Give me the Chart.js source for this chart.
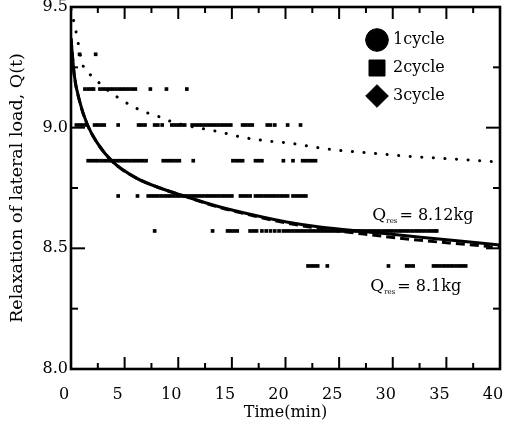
<!DOCTYPE html>
<html><head><meta charset="utf-8">
<script src="https://cdn.jsdelivr.net/npm/chart.js@4/dist/chart.umd.min.js"></script>
<style>html,body{margin:0;padding:0;background:#fff}#wrap{width:507px;height:424px}</style>
</head><body><div id="wrap"><canvas id="c" width="507" height="424"></canvas></div>
<script>
// ---- tick labels ----
const xTickValues = [0, 5, 10, 15, 20, 25, 30, 35, 40];
const yTickValues = [8.0, 8.5, 9.0, 9.5];
const xTickMarks = [2.5, 5, 7.5, 10, 12.5, 15, 17.5, 20, 22.5, 25, 27.5, 30, 32.5, 35, 37.5];
const yTickMarks = [8.25, 8.5, 8.75, 9.0, 9.25];

// ---- legend categories ----
const seriesNames = ['1cycle', '2cycle', '3cycle'];
const seriesShapes = ['circle', 'rect', 'rectRot'];

// ---- measured load levels (kg) ----
const levelA = 9.304, levelB = 9.16, levelC = 9.011, levelD = 8.863, levelE = 8.717, levelF = 8.572, levelG = 8.427;

// ---- measurement times (min) at each level ----
const rowA_t = [0.8, 2.3];
const rowB_t = [1.3, 1.6, 1.9, 2.1, 2.7, 3.0, 3.3, 3.6, 3.9, 4.2, 4.5, 4.8, 5.1, 5.4, 5.7, 6.0, 7.4, 8.9, 10.8];
const rowC_t = [0.5, 0.8, 1.1, 1.4, 2.2, 2.5, 2.8, 3.1, 4.4, 6.3, 6.6, 6.9, 7.8, 8.1, 8.5, 9.4, 9.7, 10.0, 10.3, 10.6,
  11.3, 11.6, 11.9, 12.2, 12.5, 12.8, 13.1, 13.4, 13.7, 14.0, 14.3, 14.6, 14.9, 16.0, 16.3, 16.6, 16.9, 18.3, 18.6, 19.0, 20.2, 21.4];
const rowD_t = [1.6, 1.9, 2.2, 2.5, 2.8, 3.1, 3.4, 3.7, 4.0, 4.3, 4.6, 4.9, 5.2, 5.5, 5.8, 6.1, 6.4, 6.7, 7.0,
  8.6, 8.9, 9.2, 9.5, 9.8, 10.1, 11.4, 15.1, 15.4, 15.7, 16.0, 17.2, 17.5, 17.8, 19.8, 20.7, 21.6, 21.9, 22.2, 22.5, 22.8];
const rowE_t = [4.4, 6.2, 7.2, 7.5, 7.8, 8.1, 8.4, 8.7, 9.0, 9.3, 9.6, 9.9, 10.2, 10.5, 10.8, 11.1, 11.4, 11.7, 12.0, 12.3,
  12.6, 12.9, 13.2, 13.5, 13.8, 14.1, 14.4, 14.7, 15.0, 15.8, 16.1, 16.4, 16.7, 17.2, 17.5, 17.8, 18.1, 18.4, 18.7, 19.0,
  19.3, 19.6, 19.9, 20.2, 20.7, 21.0, 21.3, 21.6, 21.9];
const rowF_t = [7.8, 13.2, 14.6, 14.9, 15.2, 15.5, 16.7, 17.0, 17.3, 17.8, 18.2, 18.6, 19.0, 19.4, 19.8, 20.1, 20.4, 20.7,
  21.0, 21.3, 21.6, 21.9, 22.2, 22.5, 22.8, 23.1, 23.4, 23.7, 24.0, 24.3, 24.6, 24.9, 25.2, 25.5, 25.8, 26.1, 26.4, 26.7,
  27.0, 27.3, 27.6, 27.9, 28.2, 28.5, 28.8, 29.1, 29.4, 29.7, 30.0, 30.3, 30.6, 30.9, 31.2, 31.5, 31.8, 32.1, 32.4, 32.7,
  33.0, 33.3, 33.6, 33.9, 34.1];
const rowG_t = [22.1, 22.4, 22.7, 23.0, 23.9, 29.6, 31.3, 31.6, 31.9, 33.8, 34.1, 34.4, 34.7, 35.0, 35.3, 35.6, 35.9, 36.2, 36.5, 36.8];

// ---- fitted relaxation curves ----
const fitT = [0, 0.3, 0.8, 1.5, 2.4, 3.9, 6.1, 8.3, 10.8, 13.9, 17, 20.1, 23.2, 27.9, 32.6, 37.2, 40];
const fit812Q = [9.37, 9.22, 9.11, 9.015, 8.94, 8.858, 8.791, 8.75, 8.713, 8.671, 8.638, 8.609, 8.588, 8.567, 8.546, 8.526, 8.514];
const fit81Q = [9.37, 9.22, 9.11, 9.015, 8.94, 8.858, 8.791, 8.75, 8.713, 8.669, 8.635, 8.605, 8.582, 8.556, 8.533, 8.515, 8.503];
const dotT = [0, 0.4, 1.1, 2.1, 3, 4.9, 6.1, 7.2, 8.3, 9.5, 13.9, 15.9, 18.3, 20.4, 22.6, 24.8, 27.9, 31, 34.1, 37.2, 40];
const dotQ = [9.49, 9.413, 9.26, 9.21, 9.17, 9.11, 9.08, 9.06, 9.044, 9.023, 8.982, 8.961, 8.945, 8.936, 8.92, 8.907, 8.895, 8.883, 8.874, 8.866, 8.857];

// ---- annotations ----
const annoText = [['Q', 'res', '= 8.12kg'], ['Q', 'res', '= 8.1kg']];
const annoAt = [[28.1, 8.634], [27.9, 8.34]];

const FONT = 'DejaVu Serif';
const pts = (ts, q) => ts.map(t => ({x: t, y: q}));
const series = [
  [...pts(rowA_t, levelA), ...pts(rowC_t, levelC), ...pts(rowE_t, levelE)],
  [...pts(rowB_t, levelB), ...pts(rowD_t, levelD)],
  [...pts(rowF_t, levelF), ...pts(rowG_t, levelG)]
];
const curve = (ts, qs) => ts.map((t, i) => ({x: t, y: qs[i]}));

const datasets = series.map((d, i) => ({
  label: seriesNames[i], data: d, pointStyle: 'rect', pointRadius: 2.6,
  backgroundColor: '#000', borderColor: '#000', borderWidth: 0, showLine: false
}));
datasets.push({label: 'fit812', data: curve(fitT, fit812Q), showLine: true, pointRadius: 0, borderColor: '#000', borderWidth: 3, cubicInterpolationMode: 'monotone'});
datasets.push({label: 'fit81', data: curve(fitT, fit81Q), showLine: true, pointRadius: 0, borderColor: '#000', borderWidth: 3, borderDash: [9, 5], cubicInterpolationMode: 'monotone'});
datasets.push({label: 'dot', data: curve(dotT, dotQ), showLine: true, pointRadius: 0, borderColor: '#000', borderWidth: 3, borderDash: [0.1, 11.5], borderCapStyle: 'round', cubicInterpolationMode: 'monotone'});

const framePlugin = {
  id: 'frame',
  afterLayout(chart) {
    const a = chart.chartArea, lg = chart.legend;
    if (lg) { lg.left = a.right - 143; lg.top = a.top + 13; }
  },
  afterDraw(chart) {
    const {ctx, chartArea: a, scales: {x, y}} = chart;
    ctx.save();
    ctx.strokeStyle = '#000';
    ctx.lineWidth = 2;
    const ln = (x1, y1, x2, y2) => { ctx.beginPath(); ctx.moveTo(x1, y1); ctx.lineTo(x2, y2); ctx.stroke(); };
    xTickMarks.forEach(v => {
      const p = x.getPixelForValue(v);
      const len = v % 5 === 0 ? 12 : 6;
      ln(p, a.bottom, p, a.bottom - len);
      ln(p, a.top, p, a.top + len);
    });
    yTickMarks.forEach(v => {
      const p = y.getPixelForValue(v);
      const len = Math.abs(v * 2 - Math.round(v * 2)) < 1e-6 ? 14 : 7;
      ln(a.left, p, a.left + len, p);
      ln(a.right, p, a.right - len, p);
    });
    ctx.lineWidth = 2.6;
    ctx.strokeRect(a.left, a.top, a.right - a.left, a.bottom - a.top);
    // annotations
    ctx.fillStyle = '#000';
    ctx.textBaseline = 'middle';
    annoText.forEach((parts, i) => {
      let px = x.getPixelForValue(annoAt[i][0]);
      const py = y.getPixelForValue(annoAt[i][1]);
      ctx.font = '17px "' + FONT + '"';
      ctx.fillText(parts[0], px, py); px += ctx.measureText(parts[0]).width;
      ctx.font = '7px "' + FONT + '"';
      ctx.fillText(parts[1], px, py + 5); px += ctx.measureText(parts[1]).width + 2;
      ctx.font = '16px "' + FONT + '"';
      ctx.fillText(parts[2], px, py);
    });
    ctx.restore();
  }
};

new Chart(document.getElementById('c'), {
  type: 'scatter',
  data: {datasets},
  options: {
    responsive: false, animation: false, devicePixelRatio: 1,
    layout: {padding: {left: 0, top: 7, right: 7, bottom: 0}},
    plugins: {
      legend: {
        position: 'chartArea', align: 'start',
        labels: {usePointStyle: true, color: '#000', padding: 12, font: {family: FONT, size: 16},
          generateLabels: () => seriesNames.map((n, i) => ({
            text: n, fillStyle: '#000', strokeStyle: '#000', lineWidth: 1,
            pointStyle: seriesShapes[i], datasetIndex: i, hidden: false, fontColor: '#000'
          }))}
      },
      tooltip: {enabled: false}
    },
    scales: {
      x: {
        type: 'linear', min: 0, max: 40,
        afterBuildTicks: s => { s.ticks = xTickValues.map(v => ({value: v})); },
        afterFit: s => { s.height = 55; s.paddingLeft = 0; s.paddingRight = 0; },
        grid: {display: false, drawTicks: false}, border: {display: false},
        ticks: {color: '#000', font: {family: FONT, size: 16}, padding: 16, labelOffset: -7, maxRotation: 0, autoSkip: false,
          callback: v => String(v)},
        title: {display: true, text: 'Time(min)', color: '#000', font: {family: FONT, size: 16}, padding: {top: 0, bottom: 2}}
      },
      y: {
        type: 'linear', min: 8, max: 9.5,
        afterBuildTicks: s => { s.ticks = yTickValues.map(v => ({value: v})); },
        afterFit: s => { s.width = 71; s.paddingTop = 0; s.paddingBottom = 0; },
        grid: {display: false, drawTicks: false}, border: {display: false},
        ticks: {color: '#000', font: {family: FONT, size: 16}, padding: 3, autoSkip: false,
          callback: v => Number(v).toFixed(1)},
        title: {display: true, text: 'Relaxation of lateral load, Q(t)', color: '#000', font: {family: FONT, size: 17.5}, padding: {top: 7, bottom: 0}}
      }
    }
  },
  plugins: [framePlugin]
});
</script></body></html>
